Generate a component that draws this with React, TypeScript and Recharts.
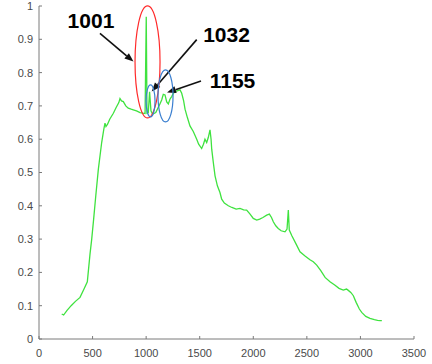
import React from "react";
import { LineChart, Line, XAxis, YAxis, ReferenceDot, ReferenceLine } from "recharts";

const wavenumbers = [
  212, 230, 260, 300, 340, 383, 420, 451, 476, 492, 510, 530, 554, 585, 605, 616, 625, 640, 660, 694,
  720, 745, 756, 770, 787, 810, 833, 860, 880, 910, 943, 970, 990, 1001, 1008, 1020, 1032, 1045, 1060, 1090,
  1120, 1145, 1160, 1176, 1192, 1207, 1222, 1238, 1255, 1269, 1290, 1316, 1332, 1350, 1363, 1385, 1409, 1440, 1472, 1490,
  1518, 1535, 1549, 1565, 1580, 1596, 1606, 1612, 1627, 1643, 1665, 1689, 1705, 1730, 1767, 1800, 1840, 1876, 1910, 1938,
  1970, 2000, 2032, 2060, 2090, 2125, 2150, 2170, 2187, 2210, 2233, 2260, 2296, 2315, 2327, 2336, 2360, 2400, 2436, 2480,
  2529, 2560, 2592, 2630, 2670, 2716, 2760, 2800, 2840, 2870, 2887, 2910, 2934, 2960, 2990, 3012, 3050, 3089, 3130, 3160,
  3183, 3200,
];

const intensity = [
  0.075, 0.072, 0.085, 0.1, 0.113, 0.125, 0.15, 0.172, 0.255, 0.3, 0.36, 0.43, 0.51, 0.59, 0.63, 0.648, 0.638, 0.645, 0.66, 0.678,
  0.695, 0.71, 0.722, 0.715, 0.713, 0.7, 0.693, 0.69, 0.688, 0.685, 0.68, 0.678, 0.677, 0.968, 0.678, 0.68, 0.742, 0.685, 0.675, 0.68,
  0.7, 0.718, 0.735, 0.733, 0.712, 0.706, 0.72, 0.728, 0.738, 0.743, 0.745, 0.748, 0.738, 0.715, 0.69, 0.665, 0.64, 0.623, 0.6, 0.585,
  0.572, 0.585, 0.6, 0.59, 0.605, 0.628, 0.6, 0.57, 0.53, 0.49, 0.46, 0.44, 0.42, 0.408, 0.4, 0.395, 0.39, 0.392, 0.388, 0.387,
  0.375, 0.362, 0.357, 0.36, 0.365, 0.372, 0.375, 0.365, 0.352, 0.34, 0.332, 0.325, 0.322, 0.33, 0.387, 0.327, 0.31, 0.285, 0.262, 0.25,
  0.238, 0.232, 0.222, 0.205, 0.185, 0.172, 0.162, 0.152, 0.147, 0.15, 0.146, 0.14, 0.13, 0.11, 0.09, 0.08, 0.068, 0.062, 0.058, 0.056,
  0.055, 0.055,
];

const xTicks = [0, 500, 1000, 1500, 2000, 2500, 3000, 3500];
const yTicks = [0, 0.1, 0.2, 0.3, 0.4, 0.5, 0.6, 0.7, 0.8, 0.9, 1];

const peakLabels = ["1001", "1032", "1155"];
const labelX = [485, 1750, 1806];
const labelY = [0.933, 0.892, 0.754];

const arrowFromX = [569, 1472, 1512];
const arrowFromY = [0.918, 0.899, 0.775];
const arrowToX = [882, 1052, 1195];
const arrowToY = [0.833, 0.743, 0.74];

const ellipseX = [1013, 1041, 1181];
const ellipseY = [0.832, 0.715, 0.73];
const ellipseRx = [12.5, 4.5, 7.5];
const ellipseRy = [56, 16, 26];
const ellipseColor = ["#ff2a2a", "#3a7fd0", "#3a7fd0"];

const data = wavenumbers.map((w, i) => ({ w, v: intensity[i] }));

const fmtY = (v: number) => (v === 0 ? "0" : v === 1 ? "1" : v.toFixed(1));

const tickStyle = { fill: "#4a4a4a", fontSize: 11, fontFamily: "Liberation Sans, Arial, sans-serif" };

const ArrowShape = (props: any) => {
  const { x1, y1, x2, y2 } = props;
  if ([x1, y1, x2, y2].some((n) => typeof n !== "number" || isNaN(n))) return null;
  const ang = Math.atan2(y2 - y1, x2 - x1);
  const len = 9;
  const half = 3.5;
  const bx = x2 - len * Math.cos(ang);
  const by = y2 - len * Math.sin(ang);
  const px = -Math.sin(ang) * half;
  const py = Math.cos(ang) * half;
  return (
    <g>
      <line x1={x1} y1={y1} x2={bx} y2={by} stroke="#111" strokeWidth={1.6} />
      <polygon points={`${x2},${y2} ${bx + px},${by + py} ${bx - px},${by - py}`} fill="#111" />
    </g>
  );
};

export default function App() {
  return (
    <div style={{ position: "absolute", left: 0, top: 0, width: 432, height: 364, background: "#fff" }}>
      <LineChart width={432} height={364} data={data} margin={{ top: 6, right: 18, bottom: 0, left: 0 }}>
        <XAxis
          dataKey="w"
          type="number"
          domain={[0, 3500]}
          ticks={xTicks}
          interval={0}
          height={25}
          tickSize={-3}
          tickMargin={13}
          stroke="#7a7a7a"
          tick={tickStyle}
        />
        <YAxis
          type="number"
          domain={[0, 1]}
          ticks={yTicks}
          interval={0}
          width={39}
          tickSize={-3}
          tickMargin={9}
          stroke="#7a7a7a"
          tick={tickStyle}
          tickFormatter={fmtY}
        />
        <Line
          dataKey="v"
          type="linear"
          stroke="#3fe23f"
          strokeWidth={1.3}
          dot={false}
          isAnimationActive={false}
        />
        {ellipseX.map((x, i) => (
          <ReferenceDot
            key={"e" + i}
            x={x}
            y={ellipseY[i]}
            shape={(p: any) => (
              <ellipse cx={p.cx} cy={p.cy} rx={ellipseRx[i]} ry={ellipseRy[i]} fill="none" stroke={ellipseColor[i]} strokeWidth={1.2} />
            )}
          />
        ))}
        {arrowFromX.map((x, i) => (
          <ReferenceLine
            key={"a" + i}
            segment={[
              { x, y: arrowFromY[i] },
              { x: arrowToX[i], y: arrowToY[i] },
            ]}
            shape={ArrowShape}
          />
        ))}
        {peakLabels.map((t, i) => (
          <ReferenceDot
            key={"t" + i}
            x={labelX[i]}
            y={labelY[i]}
            shape={(p: any) => (
              <text
                x={p.cx}
                y={p.cy}
                textAnchor="middle"
                fontSize={21}
                fontWeight="bold"
                fontFamily="Liberation Sans, Arial, sans-serif"
                fill="#000"
              >
                {t}
              </text>
            )}
          />
        ))}
      </LineChart>
    </div>
  );
}
